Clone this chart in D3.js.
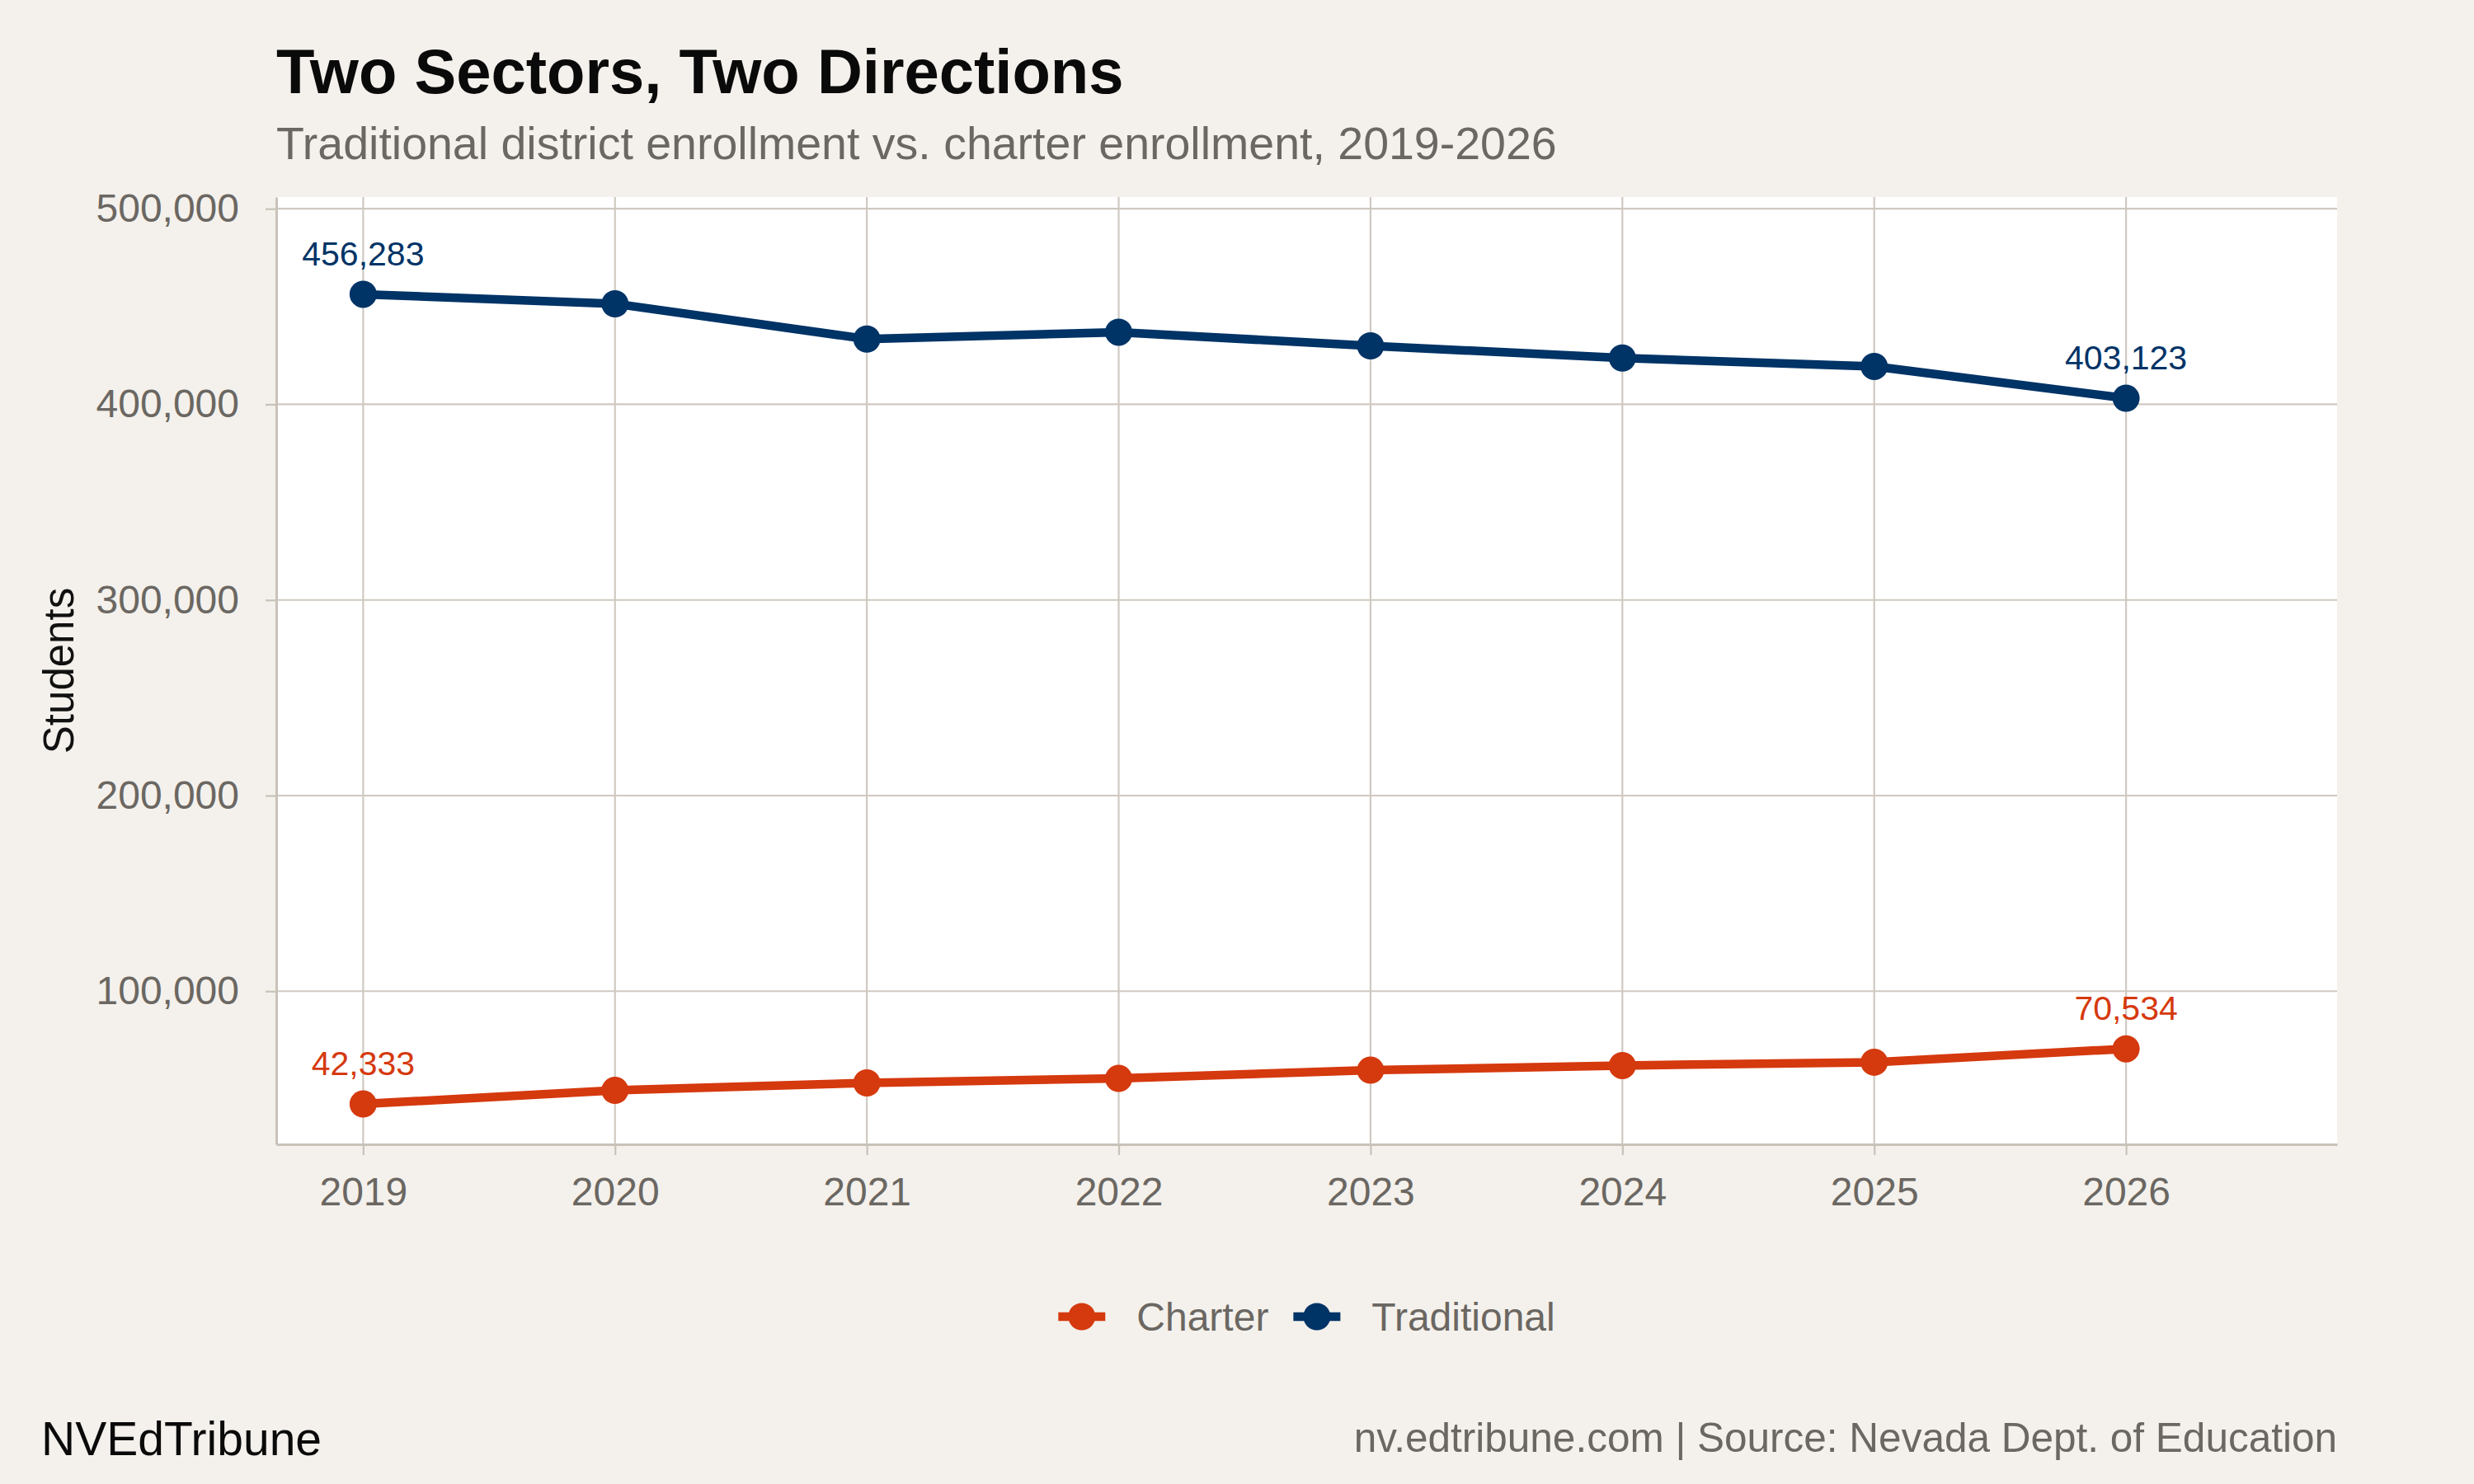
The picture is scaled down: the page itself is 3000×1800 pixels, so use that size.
<!DOCTYPE html>
<html lang="en">
<head>
  <meta charset="UTF-8">
  <title>Two Sectors, Two Directions</title>
  <script src="https://d3js.org/d3.v7.min.js"></script>
  <style>
    body { margin: 0; background: #f4f1ec; }
    svg { display: block; font-family: "Liberation Sans", Arial, Helvetica, sans-serif; }
  </style>
</head>
<body>
  <svg width="3000" height="1800"></svg>

  <script>
    // Data
    const years = [2019, 2020, 2021, 2022, 2023, 2024, 2025, 2026];
    const traditional = [456283, 451400, 433400, 436900, 429900, 423700, 419400, 403123];
    const charter = [42333, 49300, 53100, 55400, 59600, 62000, 63700, 70534];
    const seriesNames = ["Charter", "Traditional"];
    const seriesColors = ["#d5390e", "#003366"];
    const yTicks = [100000, 200000, 300000, 400000, 500000];

    const svg = d3.select("svg");

    // Panel box
    const panel = { left: 335, right: 2834, top: 239, bottom: 1388 };

    const x = d3.scaleLinear()
      .domain([2018.655, 2026.838])
      .range([panel.left, panel.right]);

    const y = d3.scaleLinear()
      .domain([21712, 505986])
      .range([panel.bottom, panel.top]);

    const gridColor = "#cfc9c1";
    const axisColor = "#c8c2b9";
    const mutedText = "#6b6762";

    // Background panel
    svg.append("rect")
      .attr("x", panel.left)
      .attr("y", panel.top)
      .attr("width", panel.right - panel.left)
      .attr("height", panel.bottom - panel.top)
      .attr("fill", "#ffffff");

    // Gridlines
    svg.append("g").selectAll("line")
      .data(yTicks)
      .enter().append("line")
      .attr("x1", panel.left).attr("x2", panel.right)
      .attr("y1", d => y(d)).attr("y2", d => y(d))
      .attr("stroke", gridColor)
      .attr("stroke-width", 2.2);

    svg.append("g").selectAll("line")
      .data(years)
      .enter().append("line")
      .attr("x1", d => x(d)).attr("x2", d => x(d))
      .attr("y1", panel.top).attr("y2", panel.bottom)
      .attr("stroke", gridColor)
      .attr("stroke-width", 2.2);

    // Axes
    const yAxis = svg.append("g")
      .attr("transform", `translate(${panel.left},0)`)
      .call(d3.axisLeft(y)
        .tickValues(yTicks)
        .tickFormat(d3.format(","))
        .tickSize(13)
        .tickSizeOuter(0)
        .tickPadding(32));

    const xAxis = svg.append("g")
      .attr("transform", `translate(0,${panel.bottom})`)
      .call(d3.axisBottom(x)
        .tickValues(years)
        .tickFormat(d3.format("d"))
        .tickSize(13)
        .tickSizeOuter(0)
        .tickPadding(27));

    [yAxis, xAxis].forEach(g => {
      g.select(".domain").attr("stroke", axisColor).attr("stroke-width", 3);
      g.selectAll(".tick line").attr("stroke", axisColor).attr("stroke-width", 2.2);
      g.selectAll(".tick text")
        .attr("fill", mutedText)
        .style("font-family", "'Liberation Sans', Arial, Helvetica, sans-serif")
        .style("font-size", "48px");
    });

    // Lines and points
    const series = [
      { name: seriesNames[0], values: charter, color: seriesColors[0] },
      { name: seriesNames[1], values: traditional, color: seriesColors[1] }
    ];

    const line = d3.line()
      .x((d, i) => x(years[i]))
      .y(d => y(d));

    series.forEach(s => {
      svg.append("path")
        .datum(s.values)
        .attr("d", line)
        .attr("fill", "none")
        .attr("stroke", s.color)
        .attr("stroke-width", 10.5)
        .attr("stroke-linejoin", "round");

      svg.append("g").selectAll("circle")
        .data(s.values)
        .enter().append("circle")
        .attr("cx", (d, i) => x(years[i]))
        .attr("cy", d => y(d))
        .attr("r", 16.5)
        .attr("fill", s.color);

      // First and last value labels
      const ends = [0, s.values.length - 1];
      svg.append("g").selectAll("text")
        .data(ends)
        .enter().append("text")
        .attr("x", i => x(years[i]))
        .attr("y", i => y(s.values[i]) - 35)
        .attr("text-anchor", "middle")
        .attr("fill", s.color)
        .style("font-size", "41px")
        .text(i => d3.format(",")(s.values[i]));
    });

    // Y axis title
    svg.append("text")
      .attr("transform", `translate(89,${(panel.top + panel.bottom) / 2}) rotate(-90)`)
      .attr("text-anchor", "middle")
      .attr("fill", "#111111")
      .style("font-size", "51px")
      .text("Students");

    // Title and subtitle
    svg.append("text")
      .attr("x", panel.left)
      .attr("y", 113)
      .attr("fill", "#0a0a0a")
      .style("font-size", "76px")
      .style("font-weight", "bold")
      .text("Two Sectors, Two Directions");

    svg.append("text")
      .attr("x", panel.left)
      .attr("y", 193)
      .attr("fill", mutedText)
      .style("font-size", "55.5px")
      .text("Traditional district enrollment vs. charter enrollment, 2019-2026");

    // Legend
    const legendY = 1597;
    const legend = svg.append("g");
    let cursor = 0;
    series.forEach(s => {
      const item = legend.append("g").attr("transform", `translate(${cursor},0)`);
      item.append("line")
        .attr("x1", 0).attr("x2", 57)
        .attr("y1", legendY).attr("y2", legendY)
        .attr("stroke", s.color)
        .attr("stroke-width", 10.5);
      item.append("circle")
        .attr("cx", 28.5).attr("cy", legendY)
        .attr("r", 16.5)
        .attr("fill", s.color);
      const t = item.append("text")
        .attr("x", 95)
        .attr("y", legendY)
        .attr("dy", "0.35em")
        .attr("fill", mutedText)
        .style("font-size", "48px")
        .text(s.name);
      cursor += 95 + t.node().getComputedTextLength() + 30;
    });
    const legendWidth = cursor - 30;
    legend.attr("transform", `translate(${(panel.left + panel.right) / 2 - legendWidth / 2},0)`);

    // Caption
    svg.append("text")
      .attr("x", 50)
      .attr("y", 1765)
      .attr("fill", "#0a0a0a")
      .style("font-size", "57px")
      .text("NVEdTribune");

    svg.append("text")
      .attr("x", panel.right)
      .attr("y", 1761)
      .attr("text-anchor", "end")
      .attr("fill", mutedText)
      .style("font-size", "49.5px")
      .text("nv.edtribune.com | Source: Nevada Dept. of Education");
  </script>
</body>
</html>
